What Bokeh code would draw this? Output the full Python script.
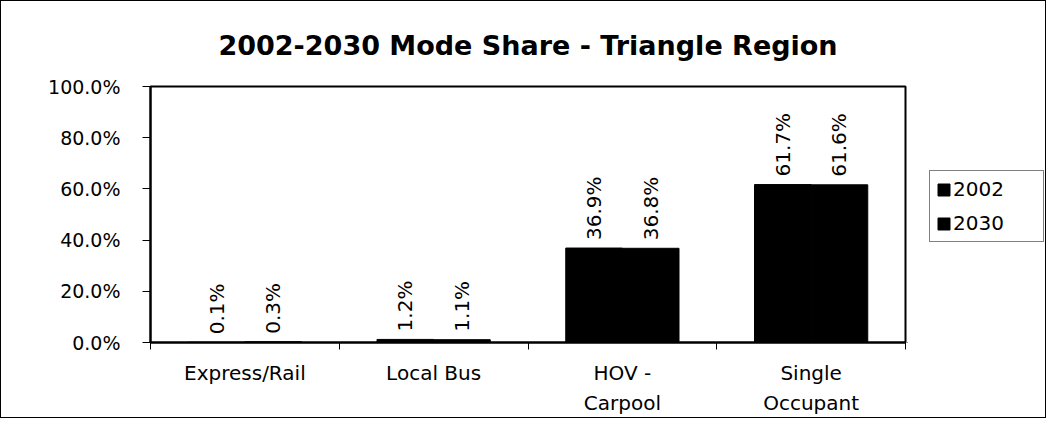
import numpy as np
from bokeh.plotting import figure
from bokeh.layouts import row
from bokeh.models import (Range1d, FixedTicker, LinearAxis, NumeralTickFormatter,
                          Legend, LegendItem, ColumnDataSource)
from bokeh.embed import file_html
from bokeh.resources import INLINE
from bokeh.core.properties import value

# ---- data ----
categories = ["Express/Rail", "Local Bus", "HOV -\nCarpool", "Single\nOccupant"]
years = ["2002", "2030"]
share_2002 = [0.001, 0.012, 0.369, 0.617]
share_2030 = [0.003, 0.011, 0.368, 0.616]
y_ticks = [0.0, 0.2, 0.4, 0.6, 0.8, 1.0]
title_text = "2002-2030 Mode Share - Triangle Region"

FONT = "DejaVu Sans"
H = 416

p = figure(width=906, height=H, output_backend="svg", toolbar_location=None,
           x_range=Range1d(0, len(categories)), y_range=Range1d(0, 1),
           min_border_left=149, min_border_right=2, min_border_top=83,
           min_border_bottom=71)

p.title.text = title_text
p.title.align = "center"
p.title.text_font = FONT
p.title.text_font_size = "27px"
p.title.text_font_style = "bold"
p.title.text_color = "black"
p.title.standoff = 52

p.xgrid.visible = False
p.ygrid.visible = False
p.outline_line_color = "black"
p.outline_line_width = 2
p.outline_line_alpha = 1

idx = np.arange(len(categories))
centers = idx + 0.5
bar_w = 0.3
src = ColumnDataSource(dict(
    x02=centers - bar_w / 2, x30=centers + bar_w / 2,
    y02=share_2002, y30=share_2030,
    l02=[f"{v*100:.1f}%" for v in share_2002],
    l30=[f"{v*100:.1f}%" for v in share_2030],
))

r1 = p.vbar(x="x02", top="y02", width=bar_w, source=src,
            fill_color="black", line_color="black")
r2 = p.vbar(x="x30", top="y30", width=bar_w, source=src,
            fill_color="black", line_color="black")

for xc, yc, lc in (("x02", "y02", "l02"), ("x30", "y30", "l30")):
    p.text(x=xc, y=yc, text=lc, source=src, angle=np.pi / 2,
           text_align="left", text_baseline="middle", y_offset=-8,
           text_font=value(FONT), text_font_size="20px", text_color="black")

# y axis
ya = p.yaxis[0]
ya.ticker = FixedTicker(ticks=y_ticks)
ya.formatter = NumeralTickFormatter(format="0.0%")
ya.major_tick_out = 8
ya.major_tick_in = 0
ya.minor_tick_line_color = None
ya.major_tick_line_width = 1
ya.axis_line_width = 2
ya.major_label_text_font = FONT
ya.major_label_text_font_size = "19px"
ya.major_label_text_color = "black"
ya.major_label_standoff = 22

# x axis: boundary ticks only
xa = p.xaxis[0]
xa.ticker = FixedTicker(ticks=list(range(len(categories) + 1)))
xa.major_label_overrides = {i: "" for i in range(len(categories) + 1)}
xa.major_label_text_font_size = "1px"
xa.major_label_standoff = 0
xa.major_tick_out = 7
xa.major_tick_in = 0
xa.minor_tick_line_color = None
xa.axis_line_width = 2

# x axis: category labels
xl = LinearAxis(ticker=FixedTicker(ticks=list(centers)),
                major_label_overrides={float(c): cat for c, cat in zip(centers, categories)})
xl.axis_line_color = None
xl.major_tick_line_color = None
xl.minor_tick_line_color = None
xl.major_label_text_font = FONT
xl.major_label_text_font_size = "20px"
xl.major_label_text_color = "black"
xl.major_label_text_line_height = 1.25
xl.major_label_standoff = 5
p.add_layout(xl, "below")

# legend panel (separate small figure to the right)
p2 = figure(width=138, height=H, output_backend="svg", toolbar_location=None,
            x_range=Range1d(0, 1), y_range=Range1d(0, 1),
            min_border=0)
p2.axis.visible = False
p2.grid.visible = False
p2.outline_line_color = None
# legend swatch renderers (zero-height, outside the visible range)
lr1 = p2.vbar(x=[-5], top=[0], width=0.1, fill_color="black", line_color="black")
lr2 = p2.vbar(x=[-5], top=[0], width=0.1, fill_color="black", line_color="black")

legend = Legend(items=[LegendItem(label=years[0], renderers=[lr1]),
                       LegendItem(label=years[1], renderers=[lr2])],
                location=(22, 100))
legend.border_line_color = "black"
legend.border_line_width = 1
legend.background_fill_color = "white"
legend.background_fill_alpha = 1
legend.label_text_font = FONT
legend.label_text_font_size = "20px"
legend.label_text_color = "black"
legend.glyph_width = 15
legend.glyph_height = 15
legend.label_height = 20
legend.label_standoff = 2
legend.spacing = 10
legend.padding = 6
legend.margin = 0
legend.label_width = 84
p2.add_layout(legend)

layout = row(p, p2, styles={"border": "1px solid black"})

open("out.html", "w").write(file_html(layout, INLINE))
